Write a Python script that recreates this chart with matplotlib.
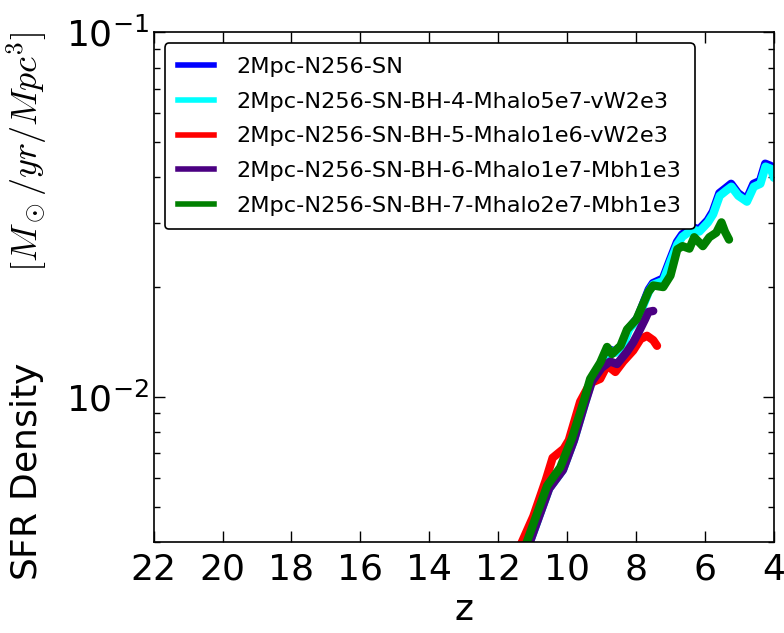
import matplotlib
matplotlib.use("Agg")
import matplotlib.pyplot as plt
from matplotlib.lines import Line2D

plt.rcParams['font.family'] = ['DejaVu Sans']
plt.rcParams['mathtext.fontset'] = 'cm'
plt.rcParams['axes.unicode_minus'] = False

# run names and colours
labels = ['2Mpc-N256-SN',
          '2Mpc-N256-SN-BH-4-Mhalo5e7-vW2e3',
          '2Mpc-N256-SN-BH-5-Mhalo1e6-vW2e3',
          '2Mpc-N256-SN-BH-6-Mhalo1e7-Mbh1e3',
          '2Mpc-N256-SN-BH-7-Mhalo2e7-Mbh1e3']
colors = ['blue', 'cyan', 'red', 'indigo', 'green']

# SFR density vs redshift
z_sn = [11.13, 10.53, 10.13, 9.81, 9.49, 9.29, 8.99, 8.79, 8.61, 8.39, 8.21, 7.95,
        7.63, 7.51, 7.22, 7.01, 6.81, 6.66, 6.37, 6.17, 5.92, 5.77, 5.58, 5.39,
        5.24, 5.04, 4.79, 4.59, 4.40, 4.25, 4.09, 4.00]
sfr_sn = [0.0039, 0.0056, 0.0063, 0.0076, 0.0097, 0.0112, 0.0125, 0.0135, 0.0133,
          0.0139, 0.0154, 0.0165, 0.0197, 0.0205, 0.0211, 0.0238, 0.0266, 0.0279,
          0.0292, 0.0288, 0.0305, 0.0322, 0.0362, 0.0374, 0.0384, 0.0362, 0.0348,
          0.0384, 0.0391, 0.0436, 0.0430, 0.0406]

z_bh4 = [11.12, 10.52, 10.12, 9.80, 9.48, 9.28, 8.98, 8.78, 8.60, 8.38, 8.20, 7.94,
         7.62, 7.50, 7.21, 7.00, 6.80, 6.65, 6.36, 6.16, 5.91, 5.76, 5.57, 5.38,
         5.23, 5.03, 4.78, 4.58, 4.39, 4.24, 4.08, 4.00]
sfr_bh4 = [0.0039, 0.0056, 0.0063, 0.0076, 0.0096, 0.0111, 0.0124, 0.0134, 0.0132,
           0.0138, 0.0153, 0.0164, 0.0195, 0.0203, 0.0208, 0.0235, 0.0262, 0.0275,
           0.0288, 0.0284, 0.0301, 0.0317, 0.0356, 0.0368, 0.0377, 0.0356, 0.0343,
           0.0377, 0.0384, 0.0428, 0.0422, 0.0399]

z_bh5 = [11.36, 10.98, 10.62, 10.42, 10.10, 9.95, 9.62, 9.33, 9.04, 8.84, 8.60,
         8.37, 8.08, 7.87, 7.68, 7.50, 7.39]
sfr_bh5 = [0.0039, 0.0047, 0.0059, 0.0068, 0.0072, 0.0076, 0.0097, 0.0109, 0.0112,
           0.0122, 0.0117, 0.0125, 0.0134, 0.0144, 0.0147, 0.0143, 0.0138]

z_bh6 = [11.12, 10.52, 10.12, 9.80, 9.48, 9.28, 9.00, 8.75, 8.55, 8.26, 8.08,
         7.93, 7.74, 7.64, 7.50]
sfr_bh6 = [0.0039, 0.0056, 0.0063, 0.0076, 0.0096, 0.0110, 0.0120, 0.0125, 0.0123,
           0.0133, 0.0141, 0.0150, 0.0163, 0.0171, 0.0172]

z_bh7 = [11.21, 10.58, 10.20, 9.86, 9.52, 9.33, 9.04, 8.84, 8.70, 8.45, 8.26, 7.99,
         7.64, 7.50, 7.21, 7.00, 6.80, 6.65, 6.45, 6.31, 6.06, 5.87, 5.67, 5.52,
         5.42, 5.30]
sfr_bh7 = [0.0039, 0.0057, 0.0064, 0.0077, 0.0097, 0.0112, 0.0124, 0.0137, 0.0131,
           0.0138, 0.0153, 0.0163, 0.0194, 0.0202, 0.0200, 0.0215, 0.0254, 0.0259,
           0.0255, 0.0274, 0.0259, 0.0274, 0.0282, 0.0301, 0.0284, 0.0270]

runs = [(z_sn, sfr_sn), (z_bh4, sfr_bh4), (z_bh5, sfr_bh5),
        (z_bh6, sfr_bh6), (z_bh7, sfr_bh7)]

fig = plt.figure(figsize=(7.84, 6.33), dpi=100)
ax = fig.add_axes([0.196, 0.144, 0.791, 0.805])

for (z, sfr), c in zip(runs, colors):
    ax.plot(z, sfr, color=c, lw=6, solid_capstyle='round', solid_joinstyle='round')

ax.set_yscale('log')
ax.set_xlim(22, 4)
ax.set_ylim(4e-3, 1e-1)
ax.set_xticks(range(22, 3, -2))

ax.tick_params(which='both', direction='in', top=True, right=True, labelsize=26)
ax.tick_params(which='major', length=8, width=1)
ax.tick_params(which='minor', length=4, width=1)
ax.tick_params(axis='x', pad=8)
for s in ax.spines.values():
    s.set_linewidth(1.2)

ax.set_xlabel('z', fontsize=26)
ax.set_ylabel('SFR Density        $[M_\\odot/yr/Mpc^3]$', fontsize=26)
ax.yaxis.set_label_coords(-0.168, 0.462)

handles = [Line2D([], [], color=c, lw=4) for c in colors]
leg = ax.legend(handles, labels, loc='upper left', fontsize=16.1, fancybox=True,
                handlelength=1.6, handletextpad=1.0, labelspacing=0.66,
                borderpad=0.6, borderaxespad=0.5, framealpha=1)
leg.get_frame().set_edgecolor('black')
leg.get_frame().set_linewidth(1.2)

fig.savefig('out.png', dpi=100)
